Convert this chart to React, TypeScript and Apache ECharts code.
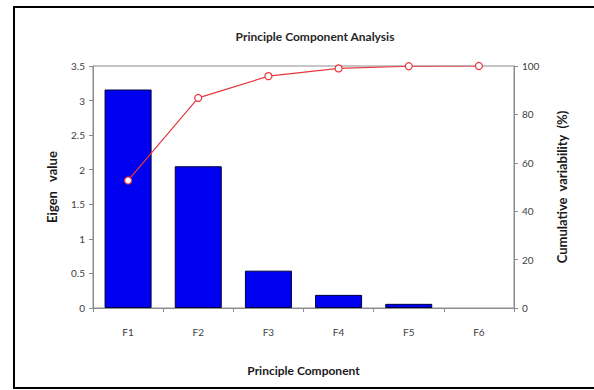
import React, { useEffect, useRef } from "react";
import * as echarts from "echarts";

const categories = ["F1", "F2", "F3", "F4", "F5", "F6"];
const eigenValues = [3.16, 2.05, 0.54, 0.19, 0.06, 0.0];
const cumulativeVariability = [52.7, 86.8, 95.8, 99.0, 99.9, 100];

const FONT = "Lato";

export default function App() {
  const ref = useRef<HTMLDivElement>(null);
  useEffect(() => {
    if (!ref.current) return;
    const chart = echarts.init(ref.current, null, { renderer: "svg" });
    const axisLine = { show: true, lineStyle: { color: "#8c8c8c", width: 1 } };
    const axisTick = { show: true, length: 4, lineStyle: { color: "#8c8c8c" } };
    const axisLabel = { color: "#404040", fontFamily: FONT, fontSize: 10 };
    const barData = eigenValues.map((v) =>
      v === 0 ? { value: v, itemStyle: { borderWidth: 0 } } : v
    );
    chart.setOption({
      animation: false,
      backgroundColor: "#ffffff",
      title: {
        text: "Principle Component Analysis",
        left: 310,
        textAlign: "center",
        top: 25,
        textStyle: { fontFamily: FONT, fontSize: 12, fontWeight: "bold", color: "#262626" },
      },
      graphic: [
        {
          type: "rect",
          shape: { x: 14, y: 7, width: 600, height: 381 },
          style: { fill: "none", stroke: "#000000", lineWidth: 2 },
          silent: true,
        },
      ],
      grid: {
        left: 93,
        right: 80,
        top: 66,
        bottom: 82,
        show: true,
        borderColor: "#8c8c8c",
        borderWidth: 1,
        backgroundColor: "transparent",
      },
      xAxis: {
        type: "category",
        data: categories,
        axisLine,
        axisTick,
        axisLabel: { ...axisLabel, margin: 19 },
        name: "Principle Component",
        nameLocation: "middle",
        nameGap: 56,
        nameTextStyle: { fontFamily: FONT, fontSize: 12, fontWeight: "bold", color: "#1a1a1a" },
      },
      yAxis: [
        {
          type: "value",
          min: 0,
          max: 3.5,
          interval: 0.5,
          axisLine,
          axisTick,
          splitLine: { show: false },
          axisLabel: { ...axisLabel, margin: 8 },
          name: "Eigen   value",
          nameLocation: "middle",
          nameGap: 35,
          nameTextStyle: { fontFamily: FONT, fontSize: 13, fontWeight: "bold", color: "#1a1a1a" },
        },
        {
          type: "value",
          min: 0,
          max: 100,
          interval: 20,
          position: "right",
          axisLine,
          axisTick,
          splitLine: { show: false },
          axisLabel: { ...axisLabel, margin: 8 },
          name: "Cumulative  variability  (%)",
          nameLocation: "middle",
          nameGap: 41,
          nameRotate: 90,
          nameTextStyle: { fontFamily: FONT, fontSize: 13, fontWeight: "bold", color: "#1a1a1a" },
        },
      ],
      series: [
        {
          type: "bar",
          data: barData,
          barCategoryGap: "33%",
          itemStyle: { color: "#0000f0", borderColor: "#000040", borderWidth: 1 },
        },
        {
          type: "line",
          yAxisIndex: 1,
          data: cumulativeVariability,
          symbol: "circle",
          symbolSize: 7,
          lineStyle: { color: "#e8383d", width: 1.2 },
          itemStyle: { color: "#ffffff", borderColor: "#e8383d", borderWidth: 1.2 },
        },
      ],
    });
    return () => chart.dispose();
  }, []);
  return (
    <div
      ref={ref}
      style={{ position: "fixed", left: 0, top: 0, width: 594, height: 390 }}
    />
  );
}
